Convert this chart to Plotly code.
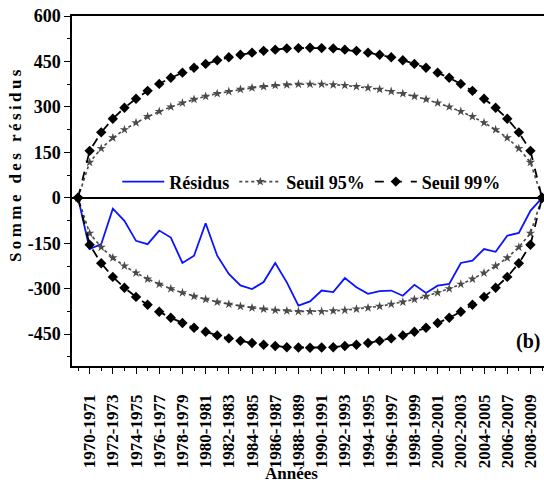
import plotly.graph_objects as go

# position 0 is the starting point, labels sit on odd positions
pos = list(range(41))
tick_pos = list(range(1, 40, 2))
tick_txt = [f"{y}-{y + 1}" for y in range(1970, 2010, 2)]

residus = [0, -169, -153, -36, -76, -142, -153, -108, -131, -215,
           -191, -84, -191, -251, -289, -301, -278, -215, -279, -356,
           -342, -306, -311, -265, -295, -317, -308, -306, -323, -287,
           -314, -290, -284, -215, -207, -169, -178, -125, -116, -43, 0]

seuil95 = [0, 117, 163, 198, 225, 248, 268, 285, 300, 313,
           325, 335, 344, 351, 358, 363, 367, 371, 373, 375,
           375, 375, 373, 371, 367, 363, 358, 351, 344, 335,
           325, 313, 300, 285, 268, 248, 225, 198, 163, 117, 0]

seuil99 = [0, 155, 216, 261, 297, 327, 353, 376, 396, 413,
           429, 442, 454, 464, 472, 479, 485, 489, 493, 494,
           495, 494, 493, 489, 485, 479, 472, 464, 454, 442,
           429, 413, 396, 376, 353, 327, 297, 261, 216, 155, 0]

y_ticks = [600, 450, 300, 150, 0, -150, -300, -450]

font = "Liberation Serif"
gray = "#4a4a4a"

# y title is drawn letter-spaced in the original
y_title = "\u2009".join("Somme des résidus")

fig = go.Figure()

fig.add_trace(go.Scatter(x=pos, y=residus, mode="lines", name="<b>Résidus</b>",
                         line=dict(color="#0a14ff", width=1.8)))

fig.add_trace(go.Scatter(x=pos, y=seuil95, mode="lines+markers", name="<b>Seuil 95%</b>",
                         line=dict(color=gray, width=1.6, dash="dot"),
                         marker=dict(symbol="star", size=7, color=gray),
                         legendgroup="s95"))
fig.add_trace(go.Scatter(x=pos, y=[-v for v in seuil95], mode="lines+markers",
                         line=dict(color=gray, width=1.6, dash="dot"),
                         marker=dict(symbol="star", size=7, color=gray),
                         legendgroup="s95", showlegend=False))

fig.add_trace(go.Scatter(x=pos, y=seuil99, mode="lines+markers", name="<b>Seuil 99%</b>",
                         line=dict(color="black", width=1.8, dash="dash"),
                         marker=dict(symbol="diamond", size=8, color="black"),
                         legendgroup="s99"))
fig.add_trace(go.Scatter(x=pos, y=[-v for v in seuil99], mode="lines+markers",
                         line=dict(color="black", width=1.8, dash="dash"),
                         marker=dict(symbol="diamond", size=8, color="black"),
                         legendgroup="s99", showlegend=False))

fig.add_annotation(x=40, y=-474, xanchor="right", yanchor="middle",
                   text="<b>(b)</b>", showarrow=False,
                   font=dict(family=font, size=20, color="black"))

# axis titles as annotations, they are not centred on the plot in the original
fig.add_annotation(xref="paper", yref="paper", x=-0.121, y=0.574,
                   xanchor="center", yanchor="middle", textangle=-90,
                   text=f"<b>{y_title}</b>", showarrow=False,
                   font=dict(family=font, size=17, color="black"))
fig.add_annotation(xref="paper", yref="paper", x=0.466, y=-0.34,
                   xanchor="center", yanchor="bottom",
                   text="<b>Années</b>", showarrow=False,
                   font=dict(family=font, size=17, color="black"))

fig.update_layout(
    width=544, height=488,
    margin=dict(l=72, r=0, t=16, b=122),
    plot_bgcolor="white", paper_bgcolor="white",
    font=dict(family=font, color="black"),
    showlegend=True,
    legend=dict(orientation="h", x=0.508, xanchor="center", y=0.526, yanchor="middle",
                bgcolor="rgba(0,0,0,0)", font=dict(family=font, size=18),
                itemwidth=42, tracegroupgap=0),
)

fig.update_xaxes(
    range=[-0.52, 40.17], showgrid=False, zeroline=False,
    showline=True, linecolor="black", linewidth=1.5, mirror=True,
    tickmode="array", tickvals=tick_pos, ticktext=[f"<b>{t}</b>" for t in tick_txt],
    ticks="outside", ticklen=6, tickcolor="black", tickangle=-90,
    ticklabelstandoff=14, ticklabeloverflow="allow",
    tickfont=dict(family=font, size=17),
    minor=dict(tick0=0, dtick=1, ticks="outside", ticklen=3, tickcolor="black"),
)

fig.update_yaxes(
    range=[-555, 600], showgrid=False,
    zeroline=True, zerolinecolor="black", zerolinewidth=1.5,
    showline=True, linecolor="black", linewidth=1.5,
    tickmode="array", tickvals=y_ticks, ticktext=[f"<b>{v}</b>" for v in y_ticks],
    ticks="outside", ticklen=6, tickcolor="black", ticklabeloverflow="allow",
    tickfont=dict(family=font, size=18),
    minor=dict(tick0=0, dtick=75, ticks="outside", ticklen=3, tickcolor="black"),
)

# drop the default page margin so the figure fills the window exactly
fig.write_html("out.html", config={"displayModeBar": False},
               post_script="document.body.style.margin='0';"
                           "document.documentElement.style.overflow='hidden';")
